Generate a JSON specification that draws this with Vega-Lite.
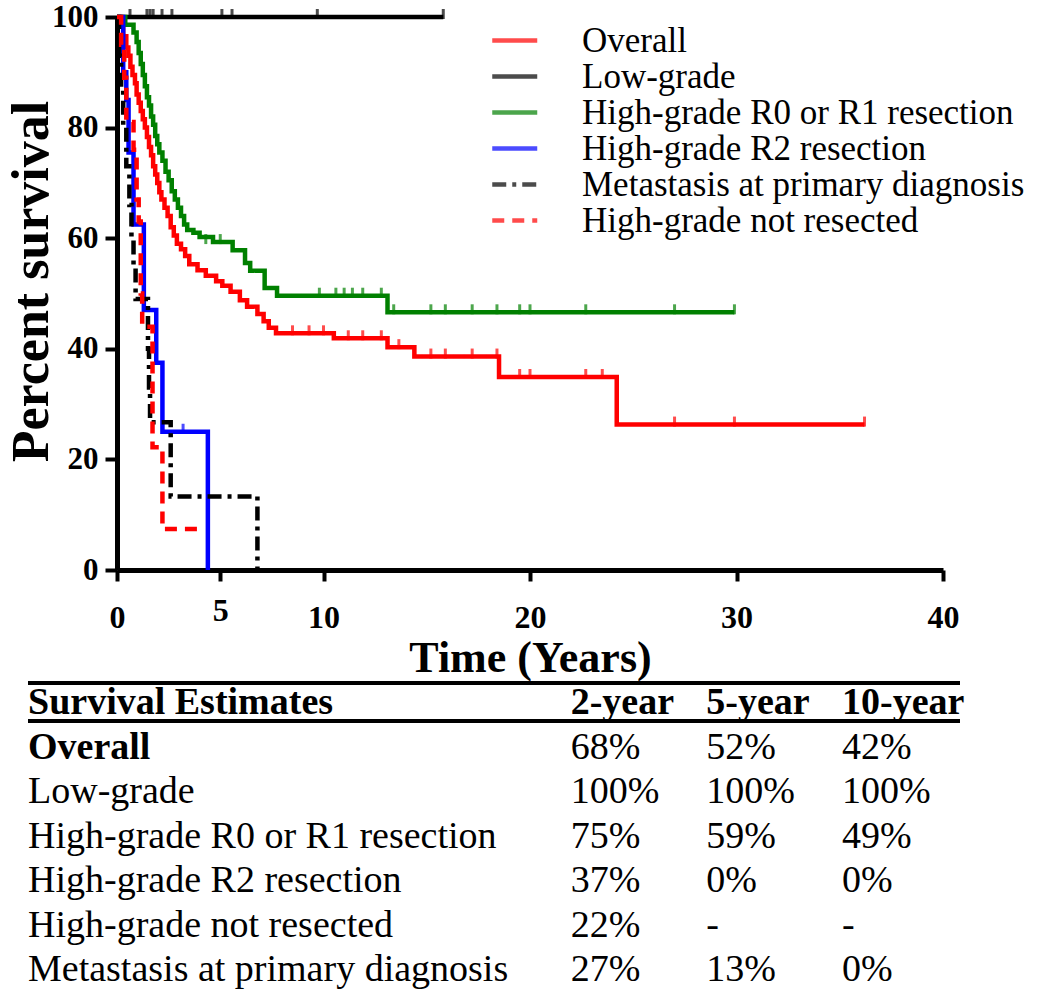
{
  "$schema": "https://vega.github.io/schema/vega-lite/v6.json",
  "width": 826,
  "height": 553,
  "autosize": "none",
  "padding": {"left": 117, "top": 17, "right": 107, "bottom": 423},
  "background": "white",
  "config": {"view": {"stroke": null}, "font": "Liberation Serif", "axis": {"grid": false}},
  "datasets": {
    "km": [
      {"g": "Overall", "t": 0, "s": 100}, {"g": "Overall", "t": 0.15, "s": 98.5}, {"g": "Overall", "t": 0.3, "s": 96.5}, {"g": "Overall", "t": 0.45, "s": 94.5}, {"g": "Overall", "t": 0.55, "s": 93}, {"g": "Overall", "t": 0.65, "s": 91}, {"g": "Overall", "t": 0.75, "s": 89.5}, {"g": "Overall", "t": 0.87, "s": 88}, {"g": "Overall", "t": 0.95, "s": 86}, {"g": "Overall", "t": 1.05, "s": 84.5}, {"g": "Overall", "t": 1.15, "s": 83}, {"g": "Overall", "t": 1.25, "s": 81.5}, {"g": "Overall", "t": 1.35, "s": 80}, {"g": "Overall", "t": 1.45, "s": 78.3}, {"g": "Overall", "t": 1.55, "s": 76.5}, {"g": "Overall", "t": 1.65, "s": 75}, {"g": "Overall", "t": 1.75, "s": 73}, {"g": "Overall", "t": 1.85, "s": 71.5}, {"g": "Overall", "t": 1.95, "s": 70}, {"g": "Overall", "t": 2.05, "s": 68.3}, {"g": "Overall", "t": 2.15, "s": 67}, {"g": "Overall", "t": 2.3, "s": 65.5}, {"g": "Overall", "t": 2.45, "s": 64}, {"g": "Overall", "t": 2.6, "s": 62}, {"g": "Overall", "t": 2.75, "s": 60.5}, {"g": "Overall", "t": 2.9, "s": 59}, {"g": "Overall", "t": 3.1, "s": 58}, {"g": "Overall", "t": 3.3, "s": 56.8}, {"g": "Overall", "t": 3.5, "s": 55.3}, {"g": "Overall", "t": 3.9, "s": 54.2}, {"g": "Overall", "t": 4.3, "s": 53.2}, {"g": "Overall", "t": 4.8, "s": 52.2}, {"g": "Overall", "t": 5.1, "s": 51.4}, {"g": "Overall", "t": 5.5, "s": 50.3}, {"g": "Overall", "t": 5.95, "s": 48.8}, {"g": "Overall", "t": 6.3, "s": 47.6}, {"g": "Overall", "t": 6.8, "s": 46.3}, {"g": "Overall", "t": 7.1, "s": 45}, {"g": "Overall", "t": 7.35, "s": 43.8}, {"g": "Overall", "t": 7.7, "s": 42.8}, {"g": "Overall", "t": 10.5, "s": 41.9}, {"g": "Overall", "t": 13.1, "s": 40.3}, {"g": "Overall", "t": 14.4, "s": 38.6}, {"g": "Overall", "t": 18.5, "s": 34.9}, {"g": "Overall", "t": 24.2, "s": 26.3}, {"g": "Overall", "t": 36.2, "s": 26.3},
      {"g": "Low-grade", "t": 0, "s": 100}, {"g": "Low-grade", "t": 15.8, "s": 100},
      {"g": "High-grade R0 or R1 resection", "t": 0, "s": 100}, {"g": "High-grade R0 or R1 resection", "t": 0.4, "s": 98.6}, {"g": "High-grade R0 or R1 resection", "t": 0.8, "s": 97.2}, {"g": "High-grade R0 or R1 resection", "t": 0.95, "s": 95.5}, {"g": "High-grade R0 or R1 resection", "t": 1.05, "s": 93.5}, {"g": "High-grade R0 or R1 resection", "t": 1.15, "s": 91.5}, {"g": "High-grade R0 or R1 resection", "t": 1.25, "s": 89.5}, {"g": "High-grade R0 or R1 resection", "t": 1.35, "s": 87.5}, {"g": "High-grade R0 or R1 resection", "t": 1.45, "s": 85.5}, {"g": "High-grade R0 or R1 resection", "t": 1.55, "s": 84}, {"g": "High-grade R0 or R1 resection", "t": 1.65, "s": 82}, {"g": "High-grade R0 or R1 resection", "t": 1.75, "s": 80.5}, {"g": "High-grade R0 or R1 resection", "t": 1.85, "s": 78.5}, {"g": "High-grade R0 or R1 resection", "t": 1.95, "s": 77}, {"g": "High-grade R0 or R1 resection", "t": 2.05, "s": 75.5}, {"g": "High-grade R0 or R1 resection", "t": 2.2, "s": 74}, {"g": "High-grade R0 or R1 resection", "t": 2.35, "s": 72}, {"g": "High-grade R0 or R1 resection", "t": 2.5, "s": 70.5}, {"g": "High-grade R0 or R1 resection", "t": 2.65, "s": 68.5}, {"g": "High-grade R0 or R1 resection", "t": 2.8, "s": 67}, {"g": "High-grade R0 or R1 resection", "t": 2.95, "s": 65.5}, {"g": "High-grade R0 or R1 resection", "t": 3.1, "s": 64}, {"g": "High-grade R0 or R1 resection", "t": 3.25, "s": 62.5}, {"g": "High-grade R0 or R1 resection", "t": 3.4, "s": 61.5}, {"g": "High-grade R0 or R1 resection", "t": 3.7, "s": 61}, {"g": "High-grade R0 or R1 resection", "t": 4.0, "s": 60.2}, {"g": "High-grade R0 or R1 resection", "t": 4.65, "s": 59.3}, {"g": "High-grade R0 or R1 resection", "t": 5.6, "s": 57.8}, {"g": "High-grade R0 or R1 resection", "t": 6.2, "s": 55.5}, {"g": "High-grade R0 or R1 resection", "t": 6.45, "s": 54.1}, {"g": "High-grade R0 or R1 resection", "t": 7.15, "s": 51}, {"g": "High-grade R0 or R1 resection", "t": 7.75, "s": 49.6}, {"g": "High-grade R0 or R1 resection", "t": 13.1, "s": 46.6}, {"g": "High-grade R0 or R1 resection", "t": 29.9, "s": 46.6},
      {"g": "High-grade R2 resection", "t": 0, "s": 100}, {"g": "High-grade R2 resection", "t": 0.3, "s": 90}, {"g": "High-grade R2 resection", "t": 0.45, "s": 85}, {"g": "High-grade R2 resection", "t": 0.56, "s": 75.5}, {"g": "High-grade R2 resection", "t": 0.8, "s": 62.5}, {"g": "High-grade R2 resection", "t": 1.3, "s": 47}, {"g": "High-grade R2 resection", "t": 1.9, "s": 37.5}, {"g": "High-grade R2 resection", "t": 2.2, "s": 25}, {"g": "High-grade R2 resection", "t": 4.4, "s": 0},
      {"g": "Metastasis at primary diagnosis", "t": 0, "s": 100}, {"g": "Metastasis at primary diagnosis", "t": 0.1, "s": 93}, {"g": "Metastasis at primary diagnosis", "t": 0.2, "s": 87}, {"g": "Metastasis at primary diagnosis", "t": 0.3, "s": 80}, {"g": "Metastasis at primary diagnosis", "t": 0.45, "s": 73}, {"g": "Metastasis at primary diagnosis", "t": 0.6, "s": 66}, {"g": "Metastasis at primary diagnosis", "t": 0.7, "s": 60}, {"g": "Metastasis at primary diagnosis", "t": 0.8, "s": 55}, {"g": "Metastasis at primary diagnosis", "t": 0.9, "s": 49}, {"g": "Metastasis at primary diagnosis", "t": 1.5, "s": 40}, {"g": "Metastasis at primary diagnosis", "t": 1.55, "s": 33}, {"g": "Metastasis at primary diagnosis", "t": 1.6, "s": 26.7}, {"g": "Metastasis at primary diagnosis", "t": 2.6, "s": 13.3}, {"g": "Metastasis at primary diagnosis", "t": 6.8, "s": 0},
      {"g": "High-grade not resected", "t": 0, "s": 100}, {"g": "High-grade not resected", "t": 0.2, "s": 95}, {"g": "High-grade not resected", "t": 0.35, "s": 89}, {"g": "High-grade not resected", "t": 0.45, "s": 81}, {"g": "High-grade not resected", "t": 0.8, "s": 76}, {"g": "High-grade not resected", "t": 0.95, "s": 67}, {"g": "High-grade not resected", "t": 1.05, "s": 63}, {"g": "High-grade not resected", "t": 1.15, "s": 50}, {"g": "High-grade not resected", "t": 1.22, "s": 44}, {"g": "High-grade not resected", "t": 1.72, "s": 22.2}, {"g": "High-grade not resected", "t": 2.2, "s": 7.4}, {"g": "High-grade not resected", "t": 4.0, "s": 7.4}
    ],
    "censor": [
      {"g": "Overall", "t": 8.5, "s": 42.8}, {"g": "Overall", "t": 9.3, "s": 42.8}, {"g": "Overall", "t": 10.0, "s": 42.8}, {"g": "Overall", "t": 11.2, "s": 41.9}, {"g": "Overall", "t": 11.9, "s": 41.9}, {"g": "Overall", "t": 12.8, "s": 41.9}, {"g": "Overall", "t": 13.65, "s": 40.3}, {"g": "Overall", "t": 15.2, "s": 38.6}, {"g": "Overall", "t": 15.9, "s": 38.6}, {"g": "Overall", "t": 17.2, "s": 38.6}, {"g": "Overall", "t": 18.4, "s": 38.6}, {"g": "Overall", "t": 19.5, "s": 34.9}, {"g": "Overall", "t": 20.0, "s": 34.9}, {"g": "Overall", "t": 22.7, "s": 34.9}, {"g": "Overall", "t": 23.5, "s": 34.9}, {"g": "Overall", "t": 27.0, "s": 26.3}, {"g": "Overall", "t": 29.9, "s": 26.3}, {"g": "Overall", "t": 36.2, "s": 26.3},
      {"g": "High-grade R0 or R1 resection", "t": 4.3, "s": 59.3}, {"g": "High-grade R0 or R1 resection", "t": 5.0, "s": 59.3}, {"g": "High-grade R0 or R1 resection", "t": 9.8, "s": 49.6}, {"g": "High-grade R0 or R1 resection", "t": 10.6, "s": 49.6}, {"g": "High-grade R0 or R1 resection", "t": 11.0, "s": 49.6}, {"g": "High-grade R0 or R1 resection", "t": 11.4, "s": 49.6}, {"g": "High-grade R0 or R1 resection", "t": 11.9, "s": 49.6}, {"g": "High-grade R0 or R1 resection", "t": 12.8, "s": 49.6}, {"g": "High-grade R0 or R1 resection", "t": 13.4, "s": 46.6}, {"g": "High-grade R0 or R1 resection", "t": 15.2, "s": 46.6}, {"g": "High-grade R0 or R1 resection", "t": 15.9, "s": 46.6}, {"g": "High-grade R0 or R1 resection", "t": 17.2, "s": 46.6}, {"g": "High-grade R0 or R1 resection", "t": 18.4, "s": 46.6}, {"g": "High-grade R0 or R1 resection", "t": 19.5, "s": 46.6}, {"g": "High-grade R0 or R1 resection", "t": 20.0, "s": 46.6}, {"g": "High-grade R0 or R1 resection", "t": 22.7, "s": 46.6}, {"g": "High-grade R0 or R1 resection", "t": 27.0, "s": 46.6}, {"g": "High-grade R0 or R1 resection", "t": 29.9, "s": 46.6},
      {"g": "Low-grade", "t": 0.63, "s": 100}, {"g": "Low-grade", "t": 1.45, "s": 100}, {"g": "Low-grade", "t": 1.6, "s": 100}, {"g": "Low-grade", "t": 1.75, "s": 100}, {"g": "Low-grade", "t": 2.18, "s": 100}, {"g": "Low-grade", "t": 2.66, "s": 100}, {"g": "Low-grade", "t": 5.08, "s": 100}, {"g": "Low-grade", "t": 5.57, "s": 100}, {"g": "Low-grade", "t": 9.7, "s": 100}, {"g": "Low-grade", "t": 15.8, "s": 100},
      {"g": "High-grade R2 resection", "t": 3.2, "s": 25}
    ],
    "table": [
      {"row": "Survival Estimates", "label": "Survival Estimates", "y2": "2-year", "y5": "5-year", "y10": "10-year"},
      {"row": "Overall", "label": "Overall", "y2": "68%", "y5": "52%", "y10": "42%"},
      {"row": "Low-grade", "label": "Low-grade", "y2": "100%", "y5": "100%", "y10": "100%"},
      {"row": "High-grade R0 or R1 resection", "label": "High-grade R0 or  R1 resection", "y2": "75%", "y5": "59%", "y10": "49%"},
      {"row": "High-grade R2 resection", "label": "High-grade R2 resection", "y2": "37%", "y5": "0%", "y10": "0%"},
      {"row": "High-grade not resected", "label": "High-grade not resected", "y2": "22%", "y5": "-", "y10": "-"},
      {"row": "Metastasis at primary diagnosis", "label": "Metastasis at primary diagnosis", "y2": "27%", "y5": "13%", "y10": "0%"}
    ],
    "rules": [
      {"rule": "top", "end": "start"}, {"rule": "top", "end": "stop"},
      {"rule": "mid", "end": "start"}, {"rule": "mid", "end": "stop"}
    ]
  },
  "layer": [
    {
      "encoding": {
        "x": {"field": "t", "type": "quantitative", "scale": {"domain": [0, 40], "nice": false},
          "axis": {"values": [0, 5, 10, 20, 30, 40], "title": "Time (Years)", "domainWidth": 5, "domainColor": "black", "tickWidth": 4, "tickSize": 11, "tickColor": "black",
            "labelFontSize": 32, "labelFontWeight": "bold", "labelFont": "Liberation Serif", "labelColor": "black", "labelFlush": false,
            "labelPadding": {"condition": {"test": "datum.value === 5", "value": 14}, "value": 21},
            "titleFontSize": 44, "titleFontWeight": "bold", "titleFont": "Liberation Serif", "titleColor": "black", "titlePadding": 3}},
        "y": {"field": "s", "type": "quantitative", "scale": {"domain": [0, 100], "nice": false},
          "axis": {"values": [0, 20, 40, 60, 80, 100], "title": "Percent survival", "domainWidth": 5, "domainColor": "black", "tickWidth": 4, "tickSize": 12, "tickColor": "black",
            "labelFontSize": 31, "labelFontWeight": "bold", "labelFont": "Liberation Serif", "labelColor": "black", "labelPadding": 7, "labelFlush": false,
            "titleFontSize": 52, "titleFontWeight": "bold", "titleFont": "Liberation Serif", "titleColor": "black", "titlePadding": -7, "titleY": 264}},
        "color": {"field": "g", "type": "nominal",
          "scale": {"domain": ["Overall", "Low-grade", "High-grade R0 or R1 resection", "High-grade R2 resection", "Metastasis at primary diagnosis", "High-grade not resected"],
            "range": ["#ff0000", "#000000", "#008000", "#0000ff", "#000000", "#ff0000"]},
          "legend": {"orient": "none", "legendX": 369, "legendY": 6, "title": null, "symbolType": "M-1,0H3", "symbolSize": 506, "symbolStrokeWidth": 4.5, "labelFontSize": 35, "labelFont": "Liberation Serif", "labelColor": "black", "labelOffset": 61, "rowPadding": 0, "padding": 0, "labelLimit": 600}}
      },
      "layer": [
        {
          "data": {"name": "km"},
          "mark": {"type": "line", "interpolate": "step-after", "strokeWidth": 4.5},
          "encoding": {
            "strokeDash": {"field": "g", "type": "nominal",
              "scale": {"domain": ["Overall", "Low-grade", "High-grade R0 or R1 resection", "High-grade R2 resection", "Metastasis at primary diagnosis", "High-grade not resected"],
                "range": [[1, 0], [1, 0], [1, 0], [1, 0], [14, 6, 4, 6], [12, 8]]},
              "legend": {"orient": "none", "legendX": 369, "legendY": 6, "title": null, "symbolType": "M-1,0H3", "symbolSize": 506, "symbolStrokeWidth": 4.5, "labelFontSize": 35, "labelFont": "Liberation Serif", "labelColor": "black", "labelOffset": 61, "rowPadding": 0, "padding": 0, "labelLimit": 600}}
          }
        },
        {
          "data": {"name": "censor"},
          "mark": {"type": "tick", "orient": "vertical", "size": 10, "thickness": 3, "yOffset": -3}
        }
      ]
    },
    {
      "layer": [
        {
          "data": {"name": "rules"},
          "mark": {"type": "line", "strokeWidth": 4, "color": "black"},
          "encoding": {
            "x": {"field": "end", "type": "nominal", "scale": {"type": "point", "domain": ["start", "stop"], "range": [-89, 843], "padding": 0}, "axis": null},
            "y": {"field": "rule", "type": "nominal", "scale": {"type": "point", "domain": ["top", "mid"], "range": [666, 704], "padding": 0}, "axis": null},
            "detail": {"field": "rule"}
          }
        },
        {
          "data": {"name": "table"},
          "transform": [{"fold": ["label", "y2", "y5", "y10"], "as": ["col", "text"]}],
          "encoding": {
            "x": {"field": "col", "type": "nominal", "scale": {"type": "point", "domain": ["label", "g1", "g2", "g3", "y2", "y5", "y10"], "range": [-89, 725], "padding": 0}, "axis": null},
            "y": {"field": "row", "type": "nominal", "scale": {"type": "point", "domain": ["Survival Estimates", "Overall", "Low-grade", "High-grade R0 or R1 resection", "High-grade R2 resection", "High-grade not resected", "Metastasis at primary diagnosis"], "range": [686, 953], "padding": 0}, "axis": null},
            "text": {"field": "text"}
          },
          "layer": [
            {
              "transform": [{"filter": "datum.row === 'Survival Estimates' || (datum.row === 'Overall' && datum.col === 'label')"}],
              "mark": {"type": "text", "align": "left", "baseline": "middle", "fontSize": 38, "fontWeight": "bold", "font": "Liberation Serif", "color": "black"}
            },
            {
              "transform": [{"filter": "!(datum.row === 'Survival Estimates' || (datum.row === 'Overall' && datum.col === 'label'))"}],
              "mark": {"type": "text", "align": "left", "baseline": "middle", "fontSize": 38, "font": "Liberation Serif", "color": "black"}
            }
          ]
        }
      ],
      "resolve": {"scale": {"x": "independent", "y": "independent"}}
    }
  ],
  "resolve": {"scale": {"x": "independent", "y": "independent"}}
}
